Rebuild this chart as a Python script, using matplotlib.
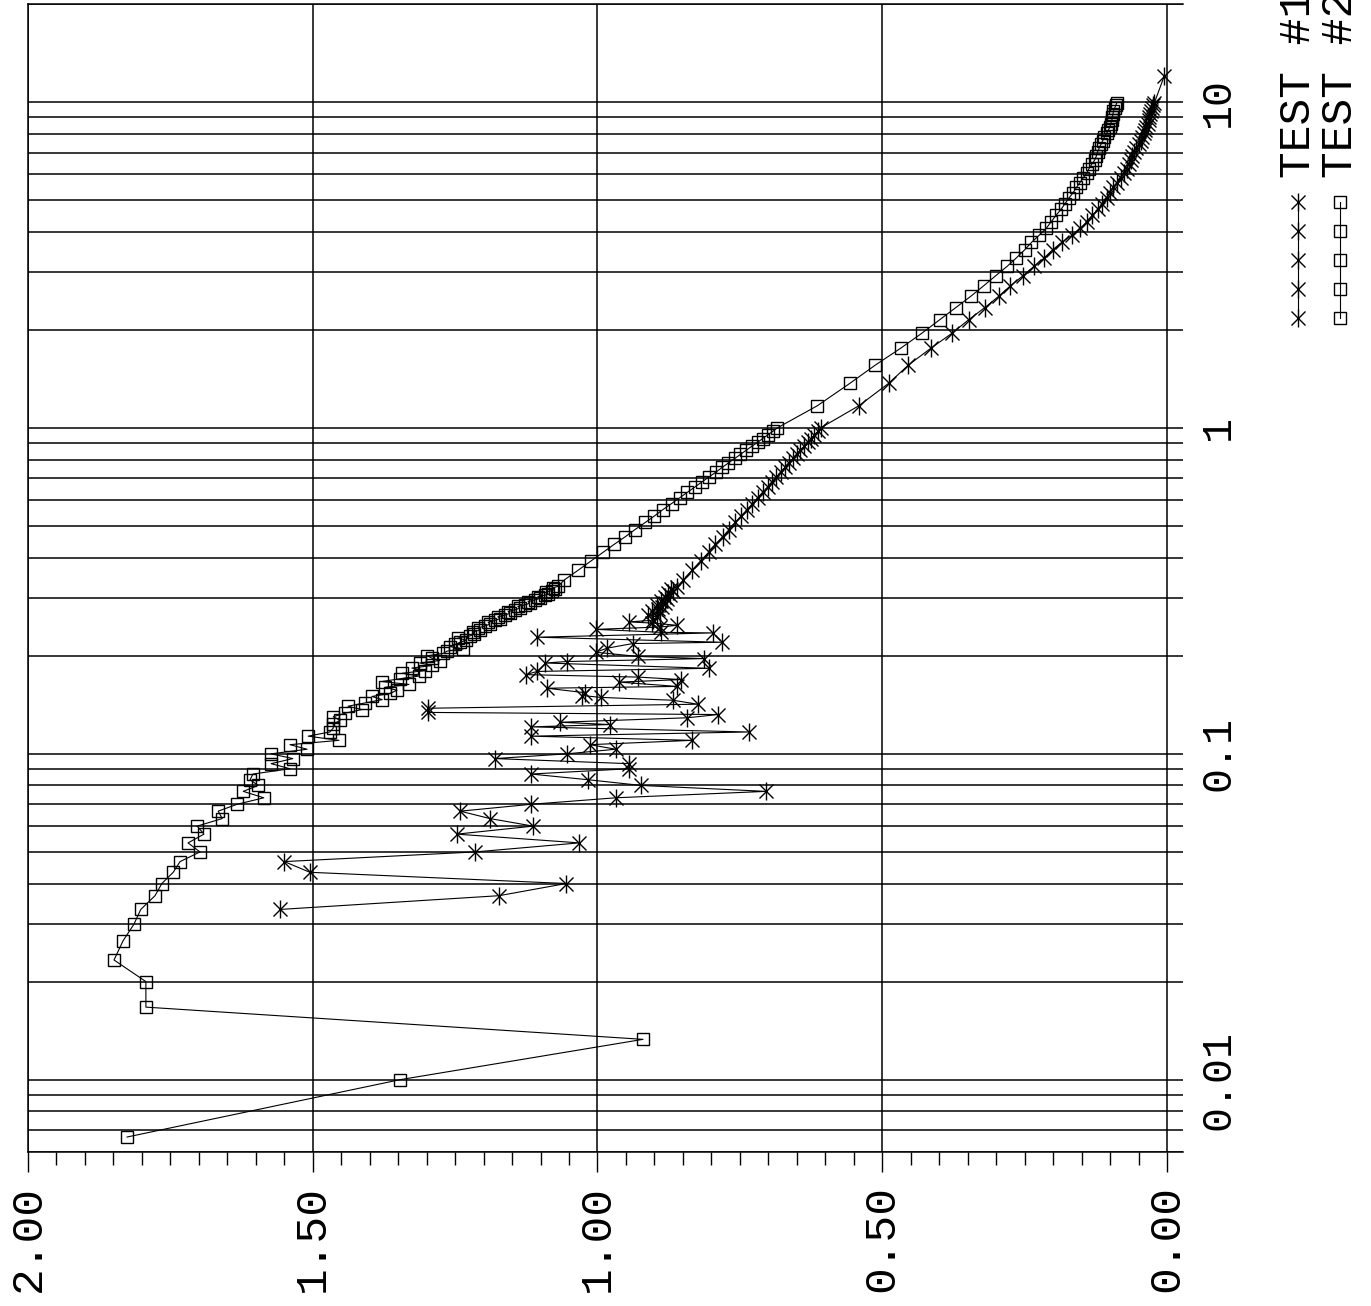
import numpy as np
import matplotlib
matplotlib.use("Agg")
import matplotlib.pyplot as plt
import matplotlib.transforms as mtransforms
from matplotlib.lines import Line2D
from matplotlib.ticker import LogLocator, MultipleLocator, NullFormatter

# --- data read off the (rotated) plotter chart ---
# frequencies shared by both series above ~0.33
freq_mid = [0.342, 0.366, 0.391, 0.415, 0.439, 0.464, 0.488, 0.513, 0.537, 0.562,
            0.586, 0.610, 0.635, 0.659, 0.684, 0.708, 0.732, 0.757, 0.781, 0.806,
            0.830, 0.854, 0.879, 0.903, 0.928, 0.952, 0.977, 1.001]
freq_high = [1.17, 1.37, 1.56, 1.76, 1.95, 2.15, 2.34, 2.54, 2.73, 2.93,
             3.13, 3.32, 3.52, 3.71, 3.91, 4.10, 4.30, 4.49, 4.69, 4.88,
             5.08, 5.27, 5.47, 5.66, 5.86, 6.05, 6.25, 6.45, 6.64, 6.84,
             7.03, 7.23, 7.42, 7.62, 7.81, 8.01, 8.20, 8.40, 8.59, 8.79,
             8.98, 9.18, 9.38, 9.57, 9.77, 9.96]

# TEST #2 (squares)
sq_freq_low = [0.00667, 0.0100, 0.0133, 0.0167, 0.0200, 0.0233, 0.0267, 0.0300, 0.0333, 0.0367,
               0.0400, 0.0433, 0.0467, 0.0500, 0.0533, 0.0567, 0.0600, 0.0633, 0.0667, 0.0700,
               0.0733, 0.0767, 0.0800, 0.0833, 0.0867, 0.0900, 0.0933, 0.0967, 0.1000, 0.1033,
               0.1067, 0.1100, 0.1133, 0.1167, 0.1200, 0.1233, 0.1267, 0.1300, 0.1333, 0.1367,
               0.1400, 0.1433, 0.1467, 0.1500, 0.1533, 0.1567, 0.1600, 0.1633, 0.1667, 0.1700,
               0.1733, 0.1767, 0.1800, 0.1833, 0.1867, 0.1900, 0.1933, 0.1967, 0.2000, 0.2033,
               0.2067, 0.2100, 0.2133, 0.2167, 0.2200, 0.2233, 0.2267, 0.2300, 0.2333, 0.2367,
               0.2400, 0.2433, 0.2467, 0.2500, 0.2533, 0.2567, 0.2600, 0.2633, 0.2667, 0.2700,
               0.2733, 0.2767, 0.2800, 0.2833, 0.2867, 0.2900, 0.2933, 0.2967, 0.3000, 0.3033,
               0.3067, 0.3100, 0.3133, 0.3167, 0.3200, 0.3233, 0.3267]
sq_val_low = [1.826, 1.347, 0.920, 1.793, 1.793, 1.849, 1.833, 1.814, 1.802, 1.777,
              1.765, 1.745, 1.733, 1.698, 1.719, 1.691, 1.703, 1.659, 1.666, 1.633,
              1.586, 1.622, 1.596, 1.610, 1.605, 1.540, 1.573, 1.535, 1.573, 1.510,
              1.540, 1.454, 1.508, 1.470, 1.464, 1.464, 1.452, 1.464, 1.443, 1.414,
              1.438, 1.408, 1.378, 1.396, 1.364, 1.352, 1.373, 1.331, 1.378, 1.347,
              1.313, 1.343, 1.303, 1.326, 1.291, 1.312, 1.277, 1.291, 1.299, 1.271,
              1.264, 1.236, 1.259, 1.250, 1.241, 1.231, 1.245, 1.224, 1.217, 1.219,
              1.206, 1.210, 1.198, 1.189, 1.192, 1.180, 1.171, 1.175, 1.162, 1.154,
              1.157, 1.145, 1.136, 1.140, 1.127, 1.119, 1.122, 1.110, 1.101, 1.105,
              1.092, 1.087, 1.090, 1.080, 1.075, 1.078, 1.069]
sq_val_mid = [1.058, 1.034, 1.011, 0.990, 0.971, 0.951, 0.934, 0.916, 0.900, 0.885,
              0.870, 0.856, 0.842, 0.829, 0.816, 0.804, 0.792, 0.781, 0.770, 0.759,
              0.749, 0.739, 0.729, 0.719, 0.710, 0.701, 0.692, 0.684]
sq_val_high = [0.614, 0.557, 0.512, 0.467, 0.431, 0.399, 0.371, 0.344, 0.322, 0.301,
               0.281, 0.265, 0.250, 0.238, 0.224, 0.212, 0.203, 0.195, 0.186, 0.179,
               0.172, 0.165, 0.159, 0.153, 0.147, 0.141, 0.137, 0.132, 0.127, 0.124,
               0.122, 0.119, 0.116, 0.113, 0.110, 0.106, 0.103, 0.100, 0.099, 0.097,
               0.096, 0.095, 0.094, 0.092, 0.090, 0.088]

# TEST #1 (asterisks)
ast_freq_low = [0.0333, 0.0367, 0.0400, 0.0433, 0.0467, 0.0500, 0.0533, 0.0567, 0.0600, 0.0633,
                0.0667, 0.0700, 0.0733, 0.0767, 0.0800, 0.0833, 0.0867, 0.0900, 0.0933, 0.0967,
                0.1000, 0.1033, 0.1067, 0.1100, 0.1133, 0.1167,
                0.121, 0.123, 0.125, 0.129, 0.132, 0.134, 0.138, 0.142, 0.146, 0.149,
                0.151, 0.154, 0.159, 0.161, 0.166, 0.169, 0.172, 0.175, 0.179, 0.183,
                0.190, 0.192, 0.196, 0.199, 0.205, 0.211, 0.218, 0.220, 0.228, 0.235,
                0.236, 0.241, 0.245, 0.248, 0.252, 0.254,
                0.257, 0.263, 0.266, 0.270, 0.274, 0.278, 0.282, 0.286, 0.290, 0.294,
                0.298, 0.303, 0.307, 0.311, 0.316, 0.320, 0.325]
ast_val_low = [1.558, 1.173, 1.055, 1.505, 1.550, 1.215, 1.032, 1.247, 1.113, 1.189,
               1.241, 1.117, 0.968, 0.704, 0.924, 1.017, 1.117, 0.945, 0.945, 1.180,
               1.054, 0.968, 1.013, 0.834, 1.117, 0.734,
               1.117, 0.978, 1.066, 0.843, 0.788, 1.298, 1.298, 0.824, 0.867, 0.994,
               1.027, 1.022, 1.089, 0.860, 0.962, 0.853, 0.929, 1.126, 1.106, 0.804,
               1.092, 1.054, 0.813, 0.929, 1.003, 0.983, 0.938, 0.781, 1.106, 0.797,
               0.888, 1.003, 0.890, 0.860, 0.904, 0.945,
               0.903, 0.895, 0.912, 0.890, 0.904, 0.894, 0.887, 0.896, 0.881, 0.888,
               0.878, 0.881, 0.872, 0.876, 0.867, 0.871, 0.860]
ast_val_mid = [0.849, 0.834, 0.819, 0.805, 0.793, 0.780, 0.769, 0.758, 0.748, 0.737,
               0.728, 0.719, 0.710, 0.701, 0.693, 0.686, 0.678, 0.671, 0.664, 0.657,
               0.650, 0.644, 0.637, 0.631, 0.625, 0.619, 0.613, 0.608]
ast_val_high = [0.541, 0.489, 0.454, 0.414, 0.378, 0.348, 0.320, 0.295, 0.275, 0.253,
                0.234, 0.216, 0.201, 0.185, 0.166, 0.152, 0.140, 0.131, 0.121, 0.114,
                0.106, 0.100, 0.094, 0.088, 0.081, 0.076, 0.071, 0.067, 0.064, 0.061,
                0.058, 0.054, 0.050, 0.046, 0.044, 0.041, 0.039, 0.037, 0.034, 0.032,
                0.031, 0.030, 0.028, 0.026, 0.024, 0.022]
ast_freq_tail = [12.0]
ast_val_tail = [0.005]

xtick_vals = [2.0, 1.5, 1.0, 0.5, 0.0]
xtick_labels = ["2.00", "1.50", "1.00", "0.50", "0.00"]
ytick_vals = [10, 1, 0.1, 0.01]
ytick_labels = ["10", "1", "0.1", "0.01"]
series_names = ["TEST #1", "TEST #2"]

test1_f = np.array(ast_freq_low + freq_mid + freq_high + ast_freq_tail)
test1_v = np.array(ast_val_low + ast_val_mid + ast_val_high + ast_val_tail)
test2_f = np.array(sq_freq_low + freq_mid + freq_high)
test2_v = np.array(sq_val_low + sq_val_mid + sq_val_high)

W, H = 1371, 1306
fig = plt.figure(figsize=(W / 100, H / 100), dpi=100)
ax = fig.add_axes([28 / W, (H - 1152) / H, (1183 - 28) / W, 1148 / H])

font = "Liberation Mono"
lw_grid = 1.1
ast_x = dict(marker="x", ms=10.5, mew=1.0, color="black")
ast_bar = dict(marker="|", ms=12.5, mew=1.0, color="black")
sq = dict(marker="s", ms=9, mfc="none", mec="black", mew=1.0)

ax.set_yscale("log")
ax.set_ylim(0.006, 20)
ax.set_xlim(2.0, -16 / 569.5)

# grid: every log minor line across, vertical lines only at major values
ax.yaxis.set_major_locator(LogLocator(base=10, numticks=12))
ax.yaxis.set_minor_locator(LogLocator(base=10, subs=np.arange(2, 10), numticks=12))
ax.yaxis.set_minor_formatter(NullFormatter())
ax.grid(True, which="both", axis="y", color="black", lw=lw_grid)
ax.tick_params(axis="y", which="both", length=0, labelleft=False)

ax.xaxis.set_major_locator(MultipleLocator(0.5))
ax.xaxis.set_minor_locator(MultipleLocator(0.05))
ax.grid(True, which="major", axis="x", color="black", lw=lw_grid)
ax.tick_params(axis="x", which="major", length=14.5, width=1.0, direction="out",
               color="black", labelbottom=False)
ax.tick_params(axis="x", which="minor", length=9.5, width=1.0, direction="out",
               color="black")
ax.set_axisbelow(True)

for side in ["left", "top", "bottom"]:
    ax.spines[side].set_linewidth(lw_grid)
    ax.spines[side].set_color("black")
ax.spines["right"].set_visible(False)

# series
ax.plot(test1_v, test1_f, color="black", lw=0.8, zorder=3)
ax.plot(test1_v, test1_f, ls="none", zorder=4, **ast_x)
ax.plot(test1_v, test1_f, ls="none", zorder=4, **ast_bar)
ax.plot(test2_v, test2_f, color="black", lw=0.8, zorder=3, **sq)

# tick labels, written sideways like the plotter output
tb = mtransforms.blended_transform_factory(ax.transData, fig.transFigure)
for v, lab in zip(xtick_vals, xtick_labels):
    fig.text(v, (H - 1185) / H, lab, transform=tb, rotation=90, ha="center",
             va="top", fontsize=32, family=font)

tr = mtransforms.blended_transform_factory(fig.transFigure, ax.transData)
for v, lab in zip(ytick_vals, ytick_labels):
    fig.text(1218 / W, v, lab, transform=tr, rotation=90, ha="center",
             va="center", fontsize=30, family=font)

# legend drawn by hand at the right edge (its labels run off the top, as in the original)
legend_x = [1298 / W, 1340 / W]
legend_y = np.array([202, 231, 260, 289, 318])
ly = (H - legend_y) / H
for lx, name in zip(legend_x, series_names):
    fig.text(lx, (H - 178) / H, name, rotation=90, ha="center", va="bottom",
             fontsize=32, family=font)
fig.add_artist(Line2D([legend_x[0]] * 5, ly, color="black", lw=0.8))
fig.add_artist(Line2D([legend_x[0]] * 5, ly, ls="none", **ast_x))
fig.add_artist(Line2D([legend_x[0]] * 5, ly, ls="none", **ast_bar))
fig.add_artist(Line2D([legend_x[1]] * 5, ly, color="black", lw=0.8, **sq))

fig.savefig("out.png", dpi=100)
